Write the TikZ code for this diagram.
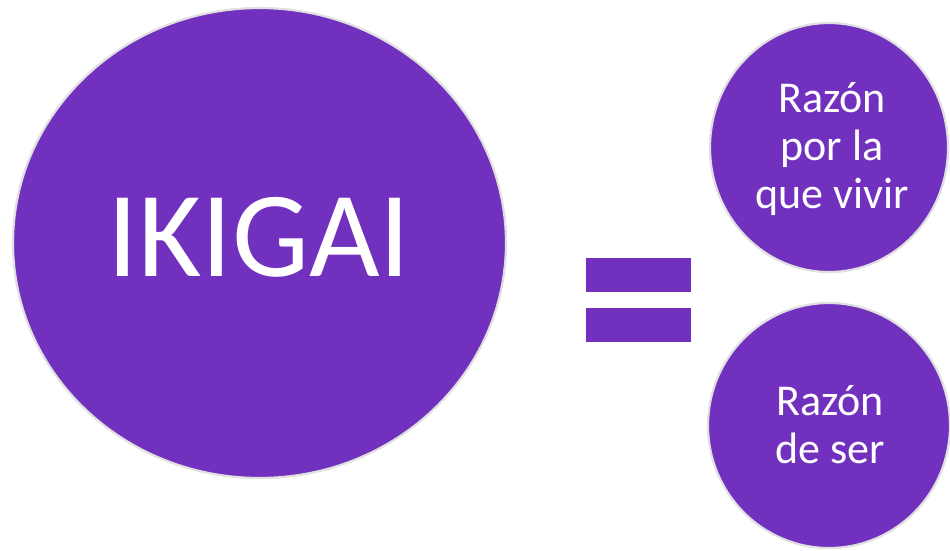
\documentclass[tikz,border=0pt]{standalone}
\usepackage{fontspec}
\setmainfont{Carlito}
\usetikzlibrary{shapes.geometric}
\definecolor{ikipurple}{HTML}{7131BE}
\definecolor{rimgray}{HTML}{E0E0E0}
\tikzset{
  disc/.style={ellipse, fill=ikipurple, draw=rimgray, line width=2.2pt, inner sep=0pt},
  bar/.style={rectangle, fill=ikipurple, draw=none, inner sep=0pt, minimum width=105pt, minimum height=34pt},
  bigtext/.style={text=white, font=\fontsize{122}{144}\selectfont, inner sep=0pt},
  smalltext/.style={text=white, align=center, font=\fontsize{44}{48}\selectfont, inner sep=0pt}
}
\begin{document}
\begin{tikzpicture}[x=1pt,y=-1pt]
\useasboundingbox (0,0) rectangle (950,550);
\node[disc, minimum width=493pt, minimum height=470pt] (big) at (259.5,243) {};
\node[disc, minimum width=238pt, minimum height=249pt] (top) at (829,147.5) {};
\node[disc, minimum width=242pt, minimum height=245pt] (bot) at (829,425.5) {};
\node[bar] (eqa) at (638.5,275) {};
\node[bar] (eqb) at (638.5,325) {};
\node[bigtext, anchor=base] (ikigai) at (259,276) {IKIGAI};
\node[smalltext, anchor=base] (razon1) at (832,208) {Razón\\por la\\que vivir};
\node[smalltext, anchor=base] (razon2) at (830,463) {Razón\\de ser};
\end{tikzpicture}
\end{document}
